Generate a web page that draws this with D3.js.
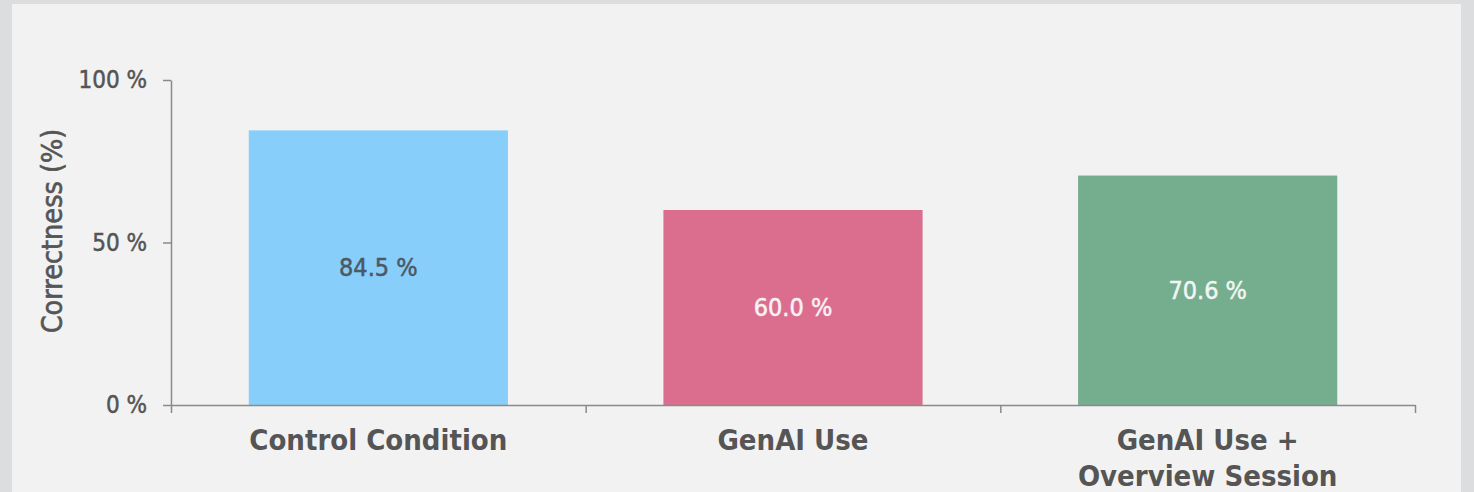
<!DOCTYPE html>
<html>
<head>
<meta charset="utf-8">
<script src="https://cdn.jsdelivr.net/npm/d3@7"></script>
<style>
  html, body { margin: 0; padding: 0; background: #dcdddf; }
  svg { display: block; }
  text { font-family: "DejaVu Sans Condensed", "DejaVu Sans", sans-serif; font-stretch: condensed; }
</style>
</head>
<body>
<div id="chart"></div>
<script>
// chart data
const categories = ["Control Condition", "GenAI Use", "GenAI Use + Overview Session"];
const labelLines = [["Control Condition"], ["GenAI Use"], ["GenAI Use +", "Overview Session"]];
const values = [84.5, 60.0, 70.6];
const barColors = ["#87cefa", "#db6e8f", "#75ad8f"];
const valueColors = ["#4c5866", "#f7f2f4", "#f1f6f2"];
const yTicks = [0, 50, 100];

const W = 1474, H = 492;
const plot = { left: 171, right: 1415, top: 80, bottom: 405 };

const svg = d3.select("#chart").append("svg")
    .attr("width", W)
    .attr("height", H);

// panel
svg.append("rect")
    .attr("x", 12).attr("y", 4)
    .attr("width", 1449).attr("height", H)
    .attr("fill", "#f2f2f2");

const y = d3.scaleLinear()
    .domain([0, 100])
    .range([plot.bottom, plot.top]);

const x = d3.scaleBand()
    .domain(categories)
    .range([plot.left, plot.right])
    .paddingInner(0.375)
    .paddingOuter(0.1875);

// plain bands for the boundary ticks
const xEdge = d3.scaleLinear()
    .domain([0, categories.length])
    .range([plot.left, plot.right]);

const axisColor = "#8a8a8a";
const textColor = "#555";

// bars
svg.selectAll(".bar")
    .data(values)
    .enter().append("rect")
    .attr("class", "bar")
    .attr("x", (d, i) => x(categories[i]))
    .attr("y", d => y(d))
    .attr("width", x.bandwidth())
    .attr("height", d => y(0) - y(d))
    .attr("fill", (d, i) => barColors[i]);

// value labels in middle of each bar
svg.selectAll(".val")
    .data(values)
    .enter().append("text")
    .attr("class", "val")
    .attr("x", (d, i) => x(categories[i]) + x.bandwidth() / 2)
    .attr("y", d => (y(d) + y(0)) / 2)
    .attr("dy", "0.35em")
    .attr("text-anchor", "middle")
    .attr("font-size", 25)
    .attr("fill", (d, i) => valueColors[i])
    .attr("stroke", (d, i) => valueColors[i])
    .attr("stroke-width", 0.5)
    .text(d => d.toFixed(1) + " %");

// y axis
const yAxis = svg.append("g")
    .attr("transform", "translate(" + plot.left + ",0)")
    .call(d3.axisLeft(y).tickValues(yTicks).tickFormat(d => d + " %").tickSize(8).tickSizeOuter(0).tickPadding(16));
yAxis.select(".domain").attr("stroke", axisColor).attr("stroke-width", 1.5);
yAxis.selectAll(".tick line").attr("stroke", axisColor).attr("stroke-width", 1.5);
yAxis.selectAll(".tick text")
    .attr("font-size", 24)
    .attr("font-family", null)
    .attr("fill", textColor)
    .attr("stroke", textColor)
    .attr("stroke-width", 0.5);

// x axis: line + boundary ticks
const xAxis = svg.append("g")
    .attr("transform", "translate(0," + plot.bottom + ")")
    .call(d3.axisBottom(xEdge).tickValues(d3.range(categories.length + 1)).tickFormat("").tickSize(8).tickSizeOuter(0));
xAxis.select(".domain").attr("stroke", axisColor).attr("stroke-width", 1.5);
xAxis.selectAll(".tick line").attr("stroke", axisColor).attr("stroke-width", 1.5);

// category labels
const catLabels = svg.selectAll(".cat")
    .data(labelLines)
    .enter().append("text")
    .attr("class", "cat")
    .attr("x", (d, i) => x(categories[i]) + x.bandwidth() / 2)
    .attr("y", 450)
    .attr("text-anchor", "middle")
    .attr("font-size", 29)
    .attr("font-weight", "bold")
    .attr("fill", textColor);

catLabels.selectAll("tspan")
    .data(d => d)
    .enter().append("tspan")
    .attr("x", function() { return this.parentNode.getAttribute("x"); })
    .attr("dy", (d, i) => i === 0 ? 0 : 36)
    .text(d => d);

// y title
svg.append("text")
    .attr("transform", "translate(62,231) rotate(-90)")
    .attr("text-anchor", "middle")
    .attr("font-size", 28.5)
    .attr("fill", textColor)
    .attr("stroke", textColor)
    .attr("stroke-width", 0.6)
    .text("Correctness (%)");
</script>
</body>
</html>
